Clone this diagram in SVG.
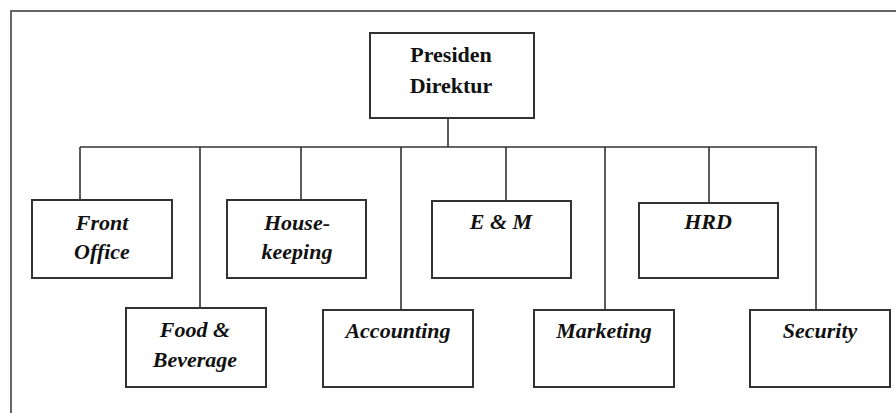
<svg xmlns="http://www.w3.org/2000/svg" width="896" height="413" viewBox="0 0 896 413">
<style>
.box{fill:#fff;stroke:#333;stroke-width:2}
.ln{fill:none;stroke:#333;stroke-width:1.6}
.frame{fill:none;stroke:#666;stroke-width:2}
.t{font-family:"Liberation Serif","Times New Roman",serif;font-size:22px;font-weight:bold;font-style:italic;fill:#111;text-anchor:middle}
.tb{font-family:"Liberation Serif","Times New Roman",serif;font-size:22px;font-weight:bold;fill:#111;text-anchor:middle}
</style>
<rect width="896" height="413" fill="#fff"/>
<path class="frame" d="M11 413 V11 H896"/>
<g id="connectors">
<path class="ln" d="M448 118 V147 M80 147 H817 M80 147 V200 M200 147 V308 M301 147 V200 M401 147 V310 M506 147 V201 M605 147 V310 M709 147 V203 M816 147 V310"/>
</g>
<g id="presiden">
<rect class="box" x="370" y="33" width="164" height="85"/>
<text class="tb" x="451" y="62">Presiden</text>
<text class="tb" x="451" y="93">Direktur</text>
</g>
<g id="front-office">
<rect class="box" x="32" y="200" width="140" height="78"/>
<text class="t" x="102" y="230">Front</text>
<text class="t" x="102" y="259">Office</text>
</g>
<g id="housekeeping">
<rect class="box" x="227" y="200" width="139" height="78"/>
<text class="t" x="297" y="230">House-</text>
<text class="t" x="297" y="259">keeping</text>
</g>
<g id="em">
<rect class="box" x="432" y="201" width="139" height="77"/>
<text class="t" x="501" y="229">E &amp; M</text>
</g>
<g id="hrd">
<rect class="box" x="639" y="203" width="139" height="75"/>
<text class="t" x="708" y="229">HRD</text>
</g>
<g id="food-beverage">
<rect class="box" x="126" y="308" width="140" height="79"/>
<text class="t" x="195" y="337">Food &amp;</text>
<text class="t" x="195" y="367">Beverage</text>
</g>
<g id="accounting">
<rect class="box" x="323" y="310" width="150" height="77"/>
<text class="t" x="398" y="338">Accounting</text>
</g>
<g id="marketing">
<rect class="box" x="534" y="310" width="140" height="77"/>
<text class="t" x="604" y="338">Marketing</text>
</g>
<g id="security">
<rect class="box" x="750" y="310" width="140" height="77"/>
<text class="t" x="820" y="338">Security</text>
</g>
</svg>
